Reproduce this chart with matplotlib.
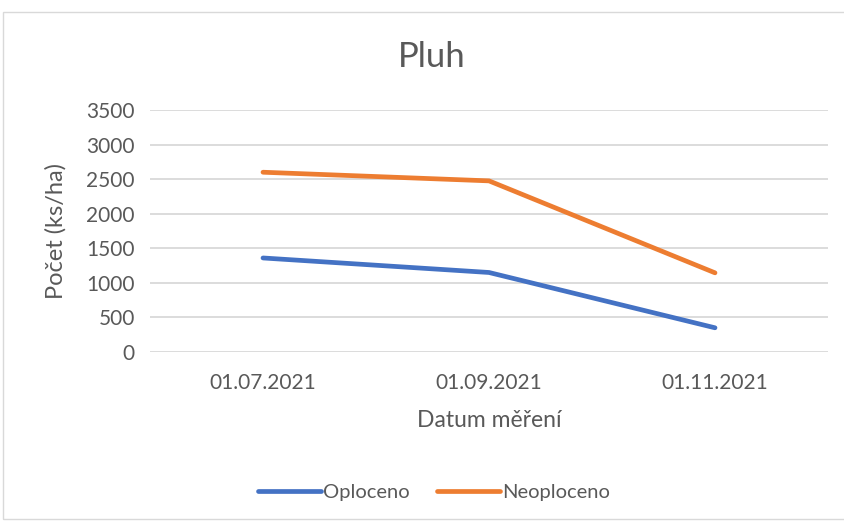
import matplotlib.pyplot as plt
from matplotlib.patches import Rectangle

plt.rcParams['font.family'] = ['Lato', 'DejaVu Sans']

# data
dates = ["01.07.2021", "01.09.2021", "01.11.2021"]
oploceno = [1360, 1150, 350]
neoploceno = [2600, 2475, 1145]
yticks = [0, 500, 1000, 1500, 2000, 2500, 3000, 3500]

text_color = "#595959"
grid_color = "#D9D9D9"

fig = plt.figure(figsize=(8.45, 5.22), dpi=100)
ax = fig.add_axes([150 / 845, 1 - 352 / 522, 678 / 845, 242 / 522])

x = [i + 0.5 for i in range(len(dates))]
ax.plot(x, oploceno, color="#4472C4", lw=3.4, solid_capstyle="round",
        solid_joinstyle="round", label="Oploceno")
ax.plot(x, neoploceno, color="#ED7D31", lw=3.4, solid_capstyle="round",
        solid_joinstyle="round", label="Neoploceno")

ax.set_xlim(0, 3)
ax.set_ylim(0, 3500)
ax.set_yticks(yticks)
ax.set_xticks(x)
ax.set_xticklabels(dates)
ax.grid(axis="y", color=grid_color, lw=1.3)
ax.set_axisbelow(True)
for s in ["top", "right", "left", "bottom"]:
    ax.spines[s].set_visible(False)
ax.tick_params(length=0, labelsize=15, colors=text_color)
ax.tick_params(axis="x", pad=15)
ax.tick_params(axis="y", pad=11)

ax.set_ylabel("Počet (ks/ha)", fontsize=17, color=text_color, labelpad=14)
ax.set_xlabel("Datum měření", fontsize=16.5, color=text_color, labelpad=12)
fig.text(432 / 845, 1 - 57 / 522, "Pluh", ha="center", va="center",
         fontsize=25, color=text_color)

leg = fig.legend(loc="center", bbox_to_anchor=(434 / 845, 1 - 492 / 522), ncol=2,
                 frameon=False, fontsize=14.5, handlelength=3.1, handletextpad=0.1,
                 columnspacing=1.4)
for t in leg.get_texts():
    t.set_color(text_color)

fig.patches.append(Rectangle((3 / 845, 0.005), 1, 1 - 12 / 522 - 0.005,
                             transform=fig.transFigure, fill=False,
                             edgecolor="#D9D9D9", lw=1))

fig.savefig("out.png", dpi=100)
